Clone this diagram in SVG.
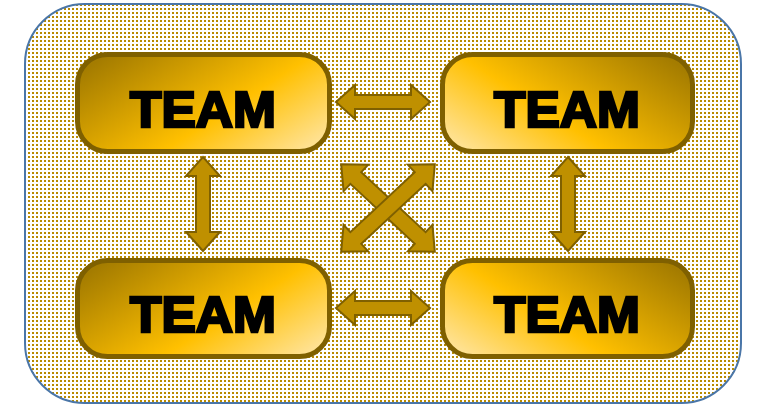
<svg xmlns="http://www.w3.org/2000/svg" width="757" height="405" viewBox="0 0 757 405">
<defs>
<pattern id="dots" width="4" height="4" patternUnits="userSpaceOnUse">
<rect width="4" height="4" fill="#ffffff"/>
<rect x="0" y="0" width="2" height="2" fill="#b88a00"/>
</pattern>
<linearGradient id="gL" x1="0" y1="0.2" x2="1" y2="0.8">
<stop offset="0" stop-color="#a47c00"/>
<stop offset="0.6" stop-color="#ffc000"/>
<stop offset="1" stop-color="#ffe190"/>
</linearGradient>
<linearGradient id="gR" x1="1" y1="0.2" x2="0" y2="0.8">
<stop offset="0" stop-color="#a47c00"/>
<stop offset="0.6" stop-color="#ffc000"/>
<stop offset="1" stop-color="#ffe190"/>
</linearGradient>
<path id="arr" d="M -47 0 L -28 -17 L -28 -7 L 28 -7 L 28 -17 L 47 0 L 28 17 L 28 7 L -28 7 L -28 17 Z"/>
<path id="arrD" d="M -64 0 L -44 -18 L -44 -8 L 44 -8 L 44 -18 L 64 0 L 44 18 L 44 8 L -44 8 L -44 18 Z"/>
</defs>
<style>
.box{stroke:#7f6000;stroke-width:5}
.lbl{font-family:"Liberation Sans",Arial,sans-serif;font-weight:bold;font-size:50px;fill:#000;stroke:#000;stroke-width:2.6;stroke-linejoin:miter;text-anchor:middle}
.a{fill:#bf9000;stroke:#7f6000;stroke-width:2}
</style>
<rect x="25" y="4" width="716" height="399" rx="60" fill="url(#dots)" stroke="#4a76a8" stroke-width="2"/>
<g id="connectors">
<use href="#arr" class="a" transform="translate(383,102)"/>
<use href="#arr" class="a" transform="translate(383,308)"/>
<use href="#arr" class="a" transform="translate(203,204) rotate(90)"/>
<use href="#arr" class="a" transform="translate(568,204) rotate(90)"/>
<use href="#arrD" class="a" transform="translate(388,208) rotate(43)"/>
<use href="#arrD" class="a" transform="translate(388,208) rotate(-43)"/>
</g>
<g id="team1">
<rect class="box" x="77.5" y="54.5" width="252" height="97" rx="30" fill="url(#gL)"/>
<text class="lbl" x="203" y="127" textLength="146" lengthAdjust="spacingAndGlyphs">TEAM</text>
</g>
<g id="team2">
<rect class="box" x="442.5" y="54.5" width="250" height="97" rx="30" fill="url(#gR)"/>
<text class="lbl" x="567" y="127" textLength="146" lengthAdjust="spacingAndGlyphs">TEAM</text>
</g>
<g id="team3">
<rect class="box" x="77.5" y="260.5" width="252" height="96" rx="30" fill="url(#gL)"/>
<text class="lbl" x="203" y="332" textLength="146" lengthAdjust="spacingAndGlyphs">TEAM</text>
</g>
<g id="team4">
<rect class="box" x="442.5" y="260.5" width="250" height="96" rx="30" fill="url(#gR)"/>
<text class="lbl" x="567" y="332" textLength="146" lengthAdjust="spacingAndGlyphs">TEAM</text>
</g>
</svg>
